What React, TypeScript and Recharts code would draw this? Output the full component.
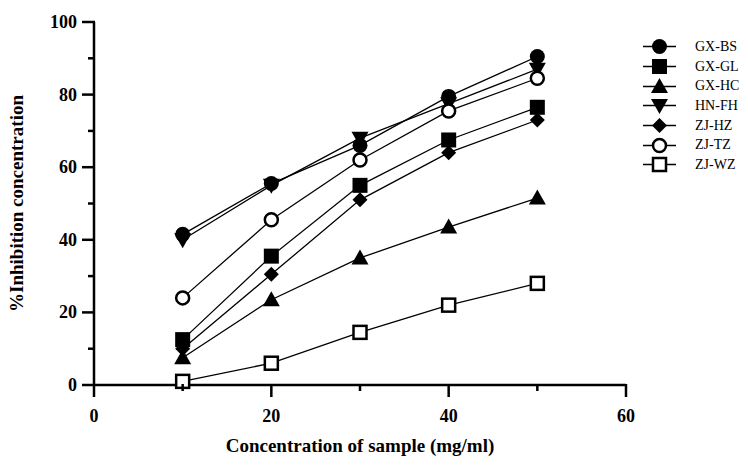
import { LineChart, Line, XAxis, YAxis } from 'recharts'

const concentrations = [10, 20, 30, 40, 50]
const seriesNames = ['GX-BS', 'GX-GL', 'GX-HC', 'HN-FH', 'ZJ-HZ', 'ZJ-TZ', 'ZJ-WZ']
const gxBs = [41.5, 55.5, 66, 79.5, 90.5]
const gxGl = [12.5, 35.5, 55, 67.5, 76.5]
const gxHc = [7.5, 23.5, 35, 43.5, 51.5]
const hnFh = [40, 55, 68, 77.5, 87]
const zjHz = [10, 30.5, 51, 64, 73]
const zjTz = [24, 45.5, 62, 75.5, 84.5]
const zjWz = [1, 6, 14.5, 22, 28]
const xTicks = [0, 10, 20, 30, 40, 50, 60]
const yTicks = [0, 10, 20, 30, 40, 50, 60, 70, 80, 90, 100]

const seriesValues = [gxBs, gxGl, gxHc, hnFh, zjHz, zjTz, zjWz]
const shapes = ['circle', 'square', 'triangle', 'triangleDown', 'diamond', 'openCircle', 'openSquare']

const data = concentrations.map((x, i) => {
  const row: Record<string, number> = { x }
  seriesNames.forEach((name, s) => {
    row[name] = seriesValues[s][i]
  })
  return row
})

const FONT = 'Liberation Serif'

const Marker = ({ shape, cx, cy }: { shape: string; cx: number; cy: number }) => {
  switch (shape) {
    case 'circle':
      return <circle cx={cx} cy={cy} r={7.5} fill="#000" />
    case 'square':
      return <rect x={cx - 7.5} y={cy - 7.5} width={15} height={15} fill="#000" />
    case 'triangle':
      return <polygon points={`${cx},${cy - 8.5} ${cx + 8.5},${cy + 6.5} ${cx - 8.5},${cy + 6.5}`} fill="#000" />
    case 'triangleDown':
      return <polygon points={`${cx},${cy + 8.5} ${cx + 8.5},${cy - 6.5} ${cx - 8.5},${cy - 6.5}`} fill="#000" />
    case 'diamond':
      return <polygon points={`${cx},${cy - 7.5} ${cx + 7.5},${cy} ${cx},${cy + 7.5} ${cx - 7.5},${cy}`} fill="#000" />
    case 'openCircle':
      return <circle cx={cx} cy={cy} r={6.5} fill="#fff" stroke="#000" strokeWidth={2.5} />
    case 'openSquare':
      return <rect x={cx - 6.5} y={cy - 6.5} width={13} height={13} fill="#fff" stroke="#000" strokeWidth={2.5} />
    default:
      return null
  }
}

// major ticks every 20 get a label, the ones in between are short and unlabeled
const renderXTick = (props: any) => {
  const { x, y, payload } = props
  const major = payload.value % 20 === 0
  return (
    <g key={`xt-${payload.value}`}>
      <line x1={x} x2={x} y1={y - 1} y2={y + (major ? 12 : 6)} stroke="#000" strokeWidth={2.5} />
      {major && (
        <text x={x} y={y + 37} textAnchor="middle" fontFamily={FONT} fontWeight="bold" fontSize={18} fill="#000">
          {payload.value}
        </text>
      )}
    </g>
  )
}

const renderYTick = (props: any) => {
  const { x, y, payload } = props
  const major = payload.value % 20 === 0
  return (
    <g key={`yt-${payload.value}`}>
      <line x1={x + 1} x2={x - (major ? 12 : 6)} y1={y} y2={y} stroke="#000" strokeWidth={2.5} />
      {major && (
        <text x={x - 17} y={y + 6} textAnchor="end" fontFamily={FONT} fontWeight="bold" fontSize={18} fill="#000">
          {payload.value}
        </text>
      )}
    </g>
  )
}

const xTitle = (p: any) => (
  <text
    x={p.viewBox.x + p.viewBox.width / 2}
    y={p.viewBox.y + p.viewBox.height + 7}
    textAnchor="middle"
    fontFamily={FONT}
    fontWeight="bold"
    fontSize={19}
    fill="#000"
  >
    Concentration of sample (mg/ml)
  </text>
)

const yTitle = (p: any) => {
  const cx = p.viewBox.x - 11
  const cy = p.viewBox.y + p.viewBox.height / 2
  return (
    <text
      x={cx}
      y={cy}
      transform={`rotate(-90 ${cx} ${cy})`}
      textAnchor="middle"
      fontFamily={FONT}
      fontWeight="bold"
      fontSize={19}
      fill="#000"
    >
      %Inhibition concentration
    </text>
  )
}

export default function App() {
  return (
    <div style={{ position: 'absolute', left: 0, top: 0, width: 748, height: 475, background: '#fff' }}>
      <LineChart width={748} height={475} data={data} margin={{ top: 22, right: 122, bottom: 30, left: 34 }}>
        <XAxis
          type="number"
          dataKey="x"
          domain={[0, 60]}
          ticks={xTicks}
          interval={0}
          tickSize={0}
          tickMargin={0}
          height={60}
          axisLine={{ stroke: '#000', strokeWidth: 2.5 }}
          tickLine={false}
          tick={renderXTick}
          label={{ content: xTitle }}
        />
        <YAxis
          type="number"
          domain={[0, 100]}
          ticks={yTicks}
          interval={0}
          tickSize={0}
          tickMargin={0}
          width={60}
          axisLine={{ stroke: '#000', strokeWidth: 2.5 }}
          tickLine={false}
          tick={renderYTick}
          label={{ content: yTitle }}
        />
        {seriesNames.map((name, s) => (
          <Line
            key={name}
            dataKey={name}
            stroke="#000"
            strokeWidth={1.3}
            isAnimationActive={false}
            dot={(p: any) => <Marker key={`${name}-${p.index}`} shape={shapes[s]} cx={p.cx} cy={p.cy} />}
            activeDot={false}
          />
        ))}
      </LineChart>
      <div style={{ position: 'absolute', left: 642, top: 37, fontFamily: FONT, fontSize: 14 }}>
        {seriesNames.map((name, s) => (
          <div key={name} style={{ display: 'flex', alignItems: 'center', height: 19.7 }}>
            <svg width={36} height={19} style={{ display: 'block' }}>
              <line x1={1} x2={34} y1={9.5} y2={9.5} stroke="#000" strokeWidth={1.3} />
              <Marker shape={shapes[s]} cx={17.5} cy={9.5} />
            </svg>
            <span style={{ marginLeft: 17 }}>{name}</span>
          </div>
        ))}
      </div>
    </div>
  )
}
